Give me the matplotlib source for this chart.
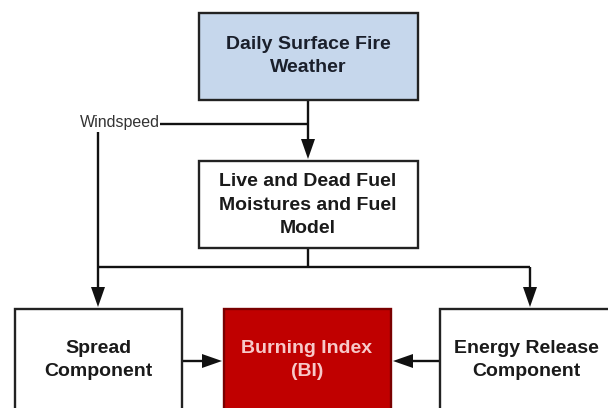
import matplotlib
matplotlib.use("Agg")
import numpy as np
import matplotlib.pyplot as plt
from matplotlib.patches import Rectangle, Polygon

plt.rcParams['font.family'] = ['Liberation Sans', 'DejaVu Sans']

# Node labels
box_labels = ["Daily Surface Fire\nWeather",
              "Live and Dead Fuel\nMoistures and Fuel\nModel",
              "Spread\nComponent",
              "Burning Index\n(BI)",
              "Energy Release\nComponent"]
box_fills = ["#c6d7ec", "#ffffff", "#ffffff", "#c00000", "#ffffff"]
box_text_colors = ["#1a1f2b", "#1a1a1a", "#1a1a1a", "#f7c9c9", "#1a1a1a"]
side_label = "Windspeed"

# box geometry (x0, y0, x1, y1) in pixel coords, y downward
boxes = [(199, 13, 418, 100),
         (199, 161, 418, 248),
         (15, 309, 182, 420),
         (224, 309, 391, 420),
         (440, 309, 620, 420)]
text_pos = [(308, 56), (308, 205), (98, 360), (307, 360), (526, 360)]

fig = plt.figure(figsize=(6.08, 4.08), dpi=100)
ax = fig.add_axes([0, 0, 1, 1])
ax.set_xlim(0, 608)
ax.set_ylim(408, 0)
ax.axis('off')

edge = "#222222"
lw = 1.7
for (x0, y0, x1, y1), fc, lab, tc, (tx, ty) in zip(boxes, box_fills, box_labels, box_text_colors, text_pos):
    ax.add_patch(Rectangle((x0, y0), x1 - x0, y1 - y0, facecolor=fc,
                           edgecolor=edge if fc != "#c00000" else "#7a0000", lw=lw, zorder=2))
    ax.text(tx, ty, lab, ha='center', va='center', fontsize=14, fontweight='bold',
            color=tc, linespacing=1.48, zorder=3)

def line(xs, ys):
    ax.plot(xs, ys, color="#111111", lw=lw, solid_capstyle='butt', zorder=1)

HEAD_LEN, HEAD_W = 20, 14

def arrow(x0, y0, x1, y1):
    d = np.array([x1 - x0, y1 - y0], float)
    d /= np.hypot(*d)
    n = np.array([-d[1], d[0]])
    tip = np.array([x1, y1]) - d * 2
    base = tip - d * HEAD_LEN
    line([x0, base[0] + d[0] * 2], [y0, base[1] + d[1] * 2])
    ax.add_patch(Polygon([tip, base + n * HEAD_W / 2, base - n * HEAD_W / 2],
                         closed=True, facecolor="#111111", edgecolor='none', zorder=4))

# Weather -> Fuel moisture
arrow(308, 100, 308, 161)
# Windspeed line
ax.text(80, 122, side_label, ha='left', va='center', fontsize=11.5, color="#333333")
line([160, 308], [124, 124])
# Windspeed down to Spread component
arrow(98, 132, 98, 309)
# Fuel moisture down to split
line([308, 308], [248, 267])
line([98, 530], [267, 267])
arrow(530, 267, 530, 309)
# Spread -> BI, ERC -> BI
arrow(182, 361, 224, 361)
arrow(440, 361, 391, 361)

fig.savefig("out.png", dpi=100)
